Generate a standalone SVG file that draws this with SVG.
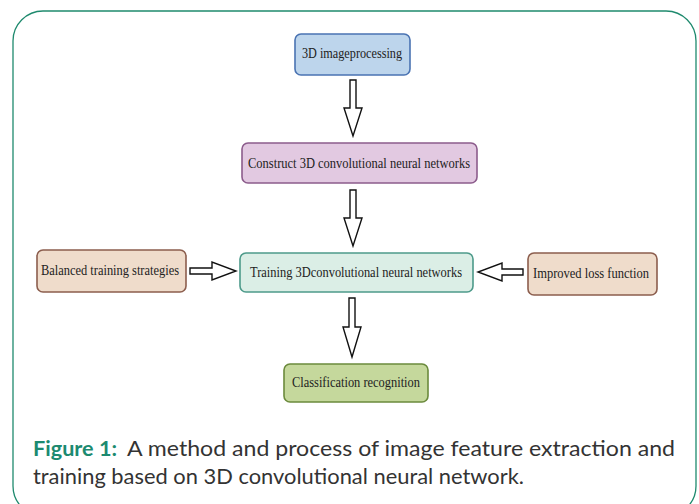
<svg xmlns="http://www.w3.org/2000/svg" width="699" height="504" viewBox="0 0 699 504">
<style>
.box{stroke-width:1.6}
.bt{font-family:"Liberation Serif","Times New Roman",serif;font-size:14px;fill:#222;text-anchor:start}
.arr{fill:#fff;stroke:#111;stroke-width:1.4;stroke-linejoin:miter}
.cap{font-family:Lato,"Open Sans","Noto Sans",sans-serif;font-size:21px;fill:#333}
</style>
<rect x="0" y="0" width="699" height="504" fill="#fff"/>
<rect x="13" y="11" width="683" height="505" rx="30" ry="30" fill="none" stroke="#1f8a6e" stroke-width="1.3"/>
<g id="connectors">
<polygon class="arr" points="350,80 356,80 356,108 362,108 353,136 344,108 350,108"/>
<polygon class="arr" points="350,190 356,190 356,218 362,218 353,246 344,218 350,218"/>
<polygon class="arr" points="349,298 355,298 355,327 361,327 352,357 343,327 349,327"/>
<polygon class="arr" points="190,268 212,268 212,262 236,271 212,280 212,274 190,274"/>
<polygon class="arr" points="523,269 502,269 502,263 478,272 502,281 502,275 523,275"/>
</g>
<g id="n1">
<rect class="box" x="295" y="34" width="115" height="41" rx="6" fill="#bdd5ec" stroke="#4a73b2"/>
<text class="bt" x="302" y="58" textLength="100" lengthAdjust="spacingAndGlyphs">3D imageprocessing</text>
</g>
<g id="n2">
<rect class="box" x="242" y="143" width="235" height="40" rx="6" fill="#e2c9e1" stroke="#8c5c8c"/>
<text class="bt" x="248" y="168" textLength="222" lengthAdjust="spacingAndGlyphs">Construct 3D convolutional neural networks</text>
</g>
<g id="n3">
<rect class="box" x="37" y="250" width="149" height="42" rx="6" fill="#efdccb" stroke="#8c5e4e"/>
<text class="bt" x="41" y="275" textLength="138" lengthAdjust="spacingAndGlyphs">Balanced training strategies</text>
</g>
<g id="n4">
<rect class="box" x="240" y="253" width="233" height="39" rx="6" fill="#dbeee6" stroke="#4d9a8a"/>
<text class="bt" x="250" y="277" textLength="212" lengthAdjust="spacingAndGlyphs">Training 3Dconvolutional neural networks</text>
</g>
<g id="n5">
<rect class="box" x="528" y="253" width="129" height="42" rx="6" fill="#efdccb" stroke="#8c5e4e"/>
<text class="bt" x="533" y="278" textLength="116" lengthAdjust="spacingAndGlyphs">Improved loss function</text>
</g>
<g id="n6">
<rect class="box" x="284" y="364" width="144" height="38" rx="6" fill="#c5d89c" stroke="#6b8a3c"/>
<text class="bt" x="292" y="387" textLength="128" lengthAdjust="spacingAndGlyphs">Classification recognition</text>
</g>
<g id="caption">
<text class="cap" x="33" y="456" font-weight="bold" style="fill:#1c8a70" textLength="84" lengthAdjust="spacingAndGlyphs">Figure 1:</text>
<text class="cap" x="127" y="456" textLength="548" lengthAdjust="spacingAndGlyphs">A method and process of image feature extraction and</text>
<text class="cap" x="33" y="484" textLength="491" lengthAdjust="spacingAndGlyphs">training based on 3D convolutional neural network.</text>
</g>
</svg>
